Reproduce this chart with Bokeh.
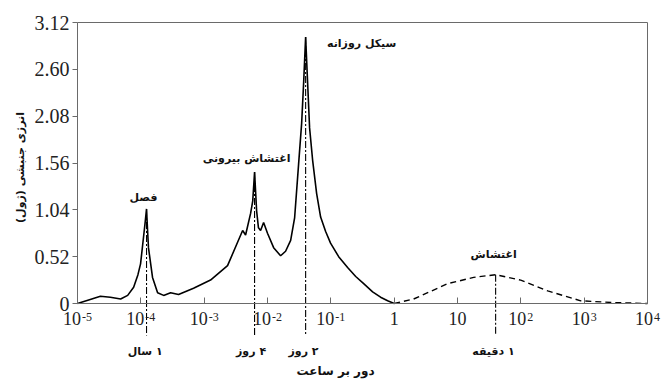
import math
from bokeh.plotting import figure
from bokeh.models import (Range1d, FixedTicker, CustomJSTickFormatter, LinearAxis, LogAxis)
from bokeh.core.properties import value
from bokeh.embed import file_html
from bokeh.resources import INLINE

# ---------------- data ----------------
# solid spectrum (frequency in cycles/hour, kinetic energy in J)
solid_freq = [1.0e-5, 1.5e-5, 2.3e-5, 3.3e-5, 4.8e-5, 6.2e-5, 7.7e-5, 9.0e-5, 9.9e-5,
              1.1e-4, 1.17e-4, 1.23e-4, 1.28e-4, 1.32e-4, 1.53e-4, 1.84e-4, 2.29e-4,
              2.95e-4, 3.94e-4, 6.8e-4, 1.26e-3, 2.34e-3, 3.37e-3, 4.05e-3, 4.51e-3,
              5.41e-3, 5.85e-3, 6.25e-3, 6.73e-3, 7.2e-3, 7.78e-3, 8.68e-3, 1.0e-2,
              1.25e-2, 1.61e-2, 1.93e-2, 2.32e-2, 2.68e-2, 3.10e-2, 3.46e-2, 3.72e-2,
              4.0e-2, 4.3e-2, 4.62e-2, 5.16e-2, 5.97e-2, 6.9e-2, 8.28e-2, 9.9e-2,
              0.133, 0.184, 0.247, 0.33, 0.457, 0.61, 0.789, 1.0]
solid_energy = [0.0, 0.04, 0.08, 0.07, 0.05, 0.09, 0.18, 0.32, 0.44,
                0.73, 0.90, 1.05, 0.80, 0.62, 0.29, 0.12, 0.09,
                0.12, 0.10, 0.17, 0.26, 0.42, 0.68, 0.81, 0.76,
                1.00, 1.14, 1.46, 1.03, 0.84, 0.81, 0.90, 0.78,
                0.62, 0.53, 0.58, 0.70, 0.95, 1.55, 2.00, 2.45,
                2.96, 2.45, 1.95, 1.59, 1.22, 0.96, 0.80, 0.67,
                0.52, 0.40, 0.30, 0.22, 0.13, 0.07, 0.03, 0.0]

# dashed (turbulence) part
dash_freq = [1.0, 2.03, 7.0, 18.0, 40.0, 99.5, 266.0, 883.0, 2940.0, 10000.0]
dash_energy = [0.0, 0.05, 0.22, 0.29, 0.32, 0.26, 0.14, 0.03, 0.01, 0.0]

# marker lines (frequency, top energy) and their captions under the axis
mark_freq = [1.23e-4, 6.25e-3, 4.0e-2, 40.0]
mark_top = [1.05, 1.46, 2.96, 0.32]
mark_text = ["۱ سال", "۴ روز", "۲ روز", "۱ دقیقه"]
mark_text_freq = [1.17e-4, 5.5e-3, 3.7e-2, 37.0]

# peak annotations inside the plot
peak_text = ["فصل", "اغتشاش بیرونی", "سیکل روزانه", "اغتشاش"]
peak_freq = [1.1e-4, 4.68e-3, 0.307, 37.3]
peak_energy = [1.18, 1.61, 2.89, 0.54]

# axes
y_ticks = [0, 0.52, 1.04, 1.56, 2.08, 2.60, 3.12]
y_labels = ["0", "0.52", "1.04", "1.56", "2.08", "2.60", "3.12"]
x_ticks = [1e-5, 1e-4, 1e-3, 1e-2, 1e-1, 1, 10, 1e2, 1e3, 1e4]
x_base = ["10", "10", "10", "10", "10", "1", "10", "10", "10", "10"]
x_exp = ["-5", "-4", "-3", "-2", "-1", "", "", "2", "3", "4"]

x_title = "دور بر ساعت"
y_title = "انرژی جنبشی (ژول)"

X_MIN, X_MAX = 1e-5, 1e4
Y_MIN, Y_MAX = 0.0, 3.12

RLM = "\u200f"
def rtl(s):
    return RLM + s + RLM

# ---------------- layout ----------------
W, H = 661, 383
LEFT, RIGHT, TOP, BOTTOM = 77, 14, 22, 80          # pixel margins around the box
box_w = W - LEFT - RIGHT
box_h = H - TOP - BOTTOM
dec_px = box_w / math.log10(X_MAX / X_MIN)          # pixels per decade
unit_px = box_h / (Y_MAX - Y_MIN)                   # pixels per joule

def py(px):            # pixel distance -> energy units
    return px / unit_px

x_lo = X_MIN / 10 ** (LEFT / dec_px)
x_hi = X_MAX * 10 ** (RIGHT / dec_px)

p = figure(width=W, height=H, x_axis_type="log",
           x_range=Range1d(x_lo, x_hi), y_range=Range1d(Y_MIN - py(BOTTOM), Y_MAX + py(TOP)),
           output_backend="svg", toolbar_location=None)
p.min_border = 0
p.min_border_left = p.min_border_right = p.min_border_top = p.min_border_bottom = 0
p.xgrid.visible = False
p.ygrid.visible = False
p.outline_line_color = None
p.background_fill_color = "white"
p.border_fill_color = "white"

AX = "#6a6a6a"
serif = "Liberation Serif"
fa = "DejaVu Sans"

# y axis
ya = p.yaxis[0]
ya.fixed_location = X_MIN
ya.bounds = (Y_MIN, Y_MAX)
ya.ticker = FixedTicker(ticks=y_ticks)
ya.major_label_overrides = {t: l for t, l in zip(y_ticks, y_labels)}
ya.axis_line_color = AX
ya.major_tick_line_color = AX
ya.major_tick_out = 5
ya.major_tick_in = 0
ya.minor_tick_line_color = None
ya.major_label_standoff = 3
ya.major_label_text_font = serif
ya.major_label_text_font_size = "20px"
ya.major_label_text_color = "#222222"

# x axis
xa = p.xaxis[0]
xa.fixed_location = Y_MIN
xa.bounds = (X_MIN, X_MAX)
xa.ticker = FixedTicker(ticks=x_ticks)
xa.formatter = CustomJSTickFormatter(code="return ''")
xa.axis_line_color = AX
xa.major_tick_line_color = AX
xa.major_tick_in = 6
xa.major_tick_out = 0
xa.minor_tick_line_color = None

# top and right border of the box
top_ax = LogAxis(fixed_location=Y_MAX, bounds=(X_MIN, X_MAX), ticker=FixedTicker(ticks=[]),
                 axis_line_color=AX, major_tick_line_color=None, minor_tick_line_color=None)
p.add_layout(top_ax, "above")
right_ax = LinearAxis(fixed_location=X_MAX, bounds=(Y_MIN, Y_MAX), ticker=FixedTicker(ticks=[]),
                      axis_line_color=AX, major_tick_line_color=None, minor_tick_line_color=None)
p.add_layout(right_ax, "right")

# curves
p.line(solid_freq, solid_energy, line_color="black", line_width=1.6)
p.line(dash_freq, dash_energy, line_color="black", line_width=1.4, line_dash="6 4")

# vertical marker lines (extend below the axis)
p.segment(x0=mark_freq, y0=mark_top, x1=mark_freq, y1=[-py(32)] * len(mark_freq),
          line_color="black", line_width=1.1, line_dash="7 2 2 2")

# x tick labels: base + superscript exponent
BASE_CH = 9      # width of a digit in the 18px base font
def exp_width(e):
    return sum(4 if c == "-" else 6 for c in e)

base_off, exp_off, base_align = [], [], []
for b, e in zip(x_base, x_exp):
    if e:
        bw = BASE_CH * len(b)
        total = bw + 1 + exp_width(e)
        right = -total / 2 + bw
        base_off.append(right)
        exp_off.append(right + 1)
        base_align.append("right")
    else:
        base_off.append(0)
        exp_off.append(0)
        base_align.append("center")

p.text(x=x_ticks, y=[-py(8)] * len(x_ticks), text=x_base, x_offset=base_off,
       text_align=base_align, text_baseline="top", text_font=value(serif),
       text_font_size="18px", text_color="#222222")
p.text(x=x_ticks, y=[-py(9)] * len(x_ticks), text=x_exp, x_offset=exp_off,
       text_align="left", text_baseline="top", text_font=value(serif),
       text_font_size="12px", text_color="#222222")

# captions under the axis
p.text(x=mark_text_freq, y=[-py(48)] * len(mark_text), text=[rtl(t) for t in mark_text],
       text_align="center", text_baseline="middle", text_font=value(fa),
       text_font_style="bold", text_font_size="11px", text_color="#111111")

# peak labels
p.text(x=peak_freq, y=peak_energy, text=[rtl(t) for t in peak_text], text_align="center",
       text_baseline="middle", text_font=value(fa), text_font_style="bold",
       text_font_size="11px", text_color="#111111")

# axis titles
p.text(x=[0.119], y=[-py(67)], text=[rtl(x_title)], text_align="center",
       text_baseline="middle", text_font=value(fa), text_font_style="bold",
       text_font_size="12px", text_color="#111111")
p.text(x=[X_MIN / 10 ** (57 / dec_px)], y=[1.51], text=[rtl(y_title)], angle=math.pi / 2,
       text_align="center", text_baseline="middle", text_font=value(fa),
       text_font_style="bold", text_font_size="11px", text_color="#111111")

open("out.html", "w").write(file_html(p, INLINE))
